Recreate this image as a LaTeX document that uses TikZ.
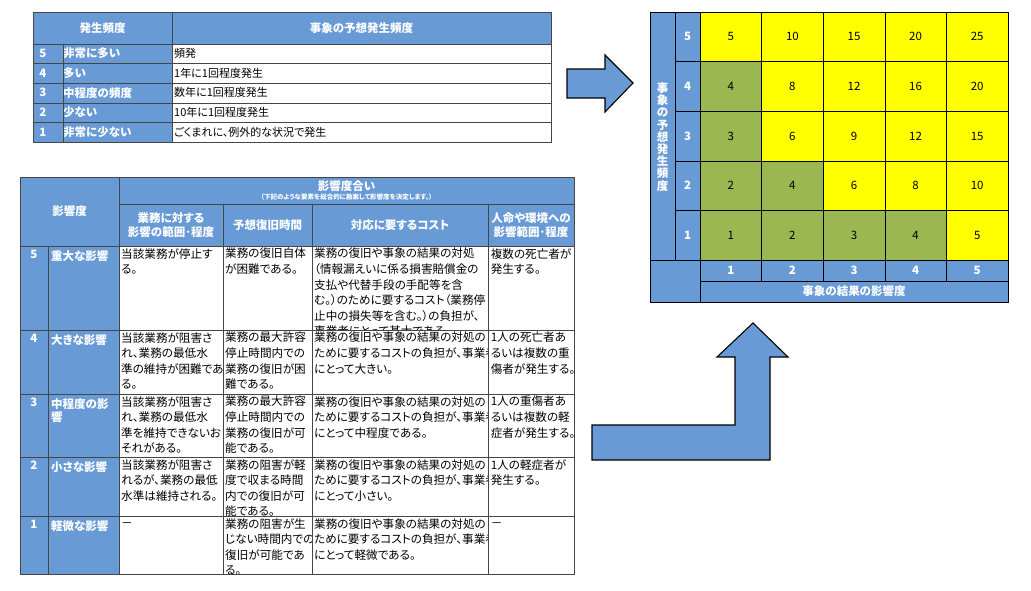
\documentclass[tikz,border=0pt]{standalone}
\usepackage{fontspec}
\setmainfont{Noto Sans CJK JP}[RawFeature=+palt]
\definecolor{hb}{RGB}{104,155,214}
\definecolor{gr}{RGB}{155,183,82}
\definecolor{yl}{RGB}{255,255,0}
\definecolor{ln}{RGB}{70,70,70}
\tikzset{
  body/.style={inner sep=1pt,align=left,font=\fontsize{11.6}{15.6}\selectfont,text=black},
  hd/.style={inner sep=0pt,align=center,font=\bfseries\fontsize{11.5}{13.5}\selectfont,text=white},
  tb/.style={inner sep=1pt,align=left,font=\fontsize{11}{13}\selectfont,text=black},
  grid/.style={draw=ln,line width=0.6pt},
  mnum/.style={font=\fontsize{11.5}{13}\selectfont,text=black},
  bigarrow/.style={fill=hb,draw=black,line width=1.1pt,line join=miter}
}
\newcommand\bcell[6]{\begin{scope}\clip (#1,#2) rectangle (#3,#4);\node[body,anchor=north west] (#5) at (#1+1,#2+1) {#6};\end{scope}}
\begin{document}
\begin{tikzpicture}[x=1pt,y=-1pt]
\useasboundingbox (0,0) rectangle (1031,590);
\fill[white] (0,0) rectangle (1031,590);
% ---------- top table ----------
\fill[hb] (33,12) rectangle (551,44);
\fill[hb] (33,44) rectangle (172,142);
\node[hd] (th1) at (102.5,28) {発生頻度};
\node[hd] (th2) at (361.5,28) {事象の予想発生頻度};
\foreach \n/\lab/\txt [count=\i from 0] in {5/非常に多い/頻発,4/多い/1年に1回程度発生,3/中程度の頻度/数年に1回程度発生,2/少ない/10年に1回程度発生,1/非常に少ない/ごくまれに、例外的な状況で発生}{
  \pgfmathsetmacro\yc{53.5+19.6*\i}
  \node[hd] (tn\n) at (43,\yc) {\n};
  \node[hd,anchor=west] (tl\n) at (63,\yc) {\lab};
  \node[tb,anchor=west] (tt\n) at (173,\yc) {\txt};
}
\draw[grid] (33,12) rectangle (551,142);
\draw[grid] (33,44) -- (551,44);
\foreach \y in {63.6,83.2,102.8,122.4}{\draw[grid] (33,\y) -- (551,\y);}
\draw[grid] (172,12) -- (172,142);
\draw[grid] (63,44) -- (63,142);
% ---------- bottom table ----------
\fill[hb] (20,177) rectangle (574,246);
\fill[hb] (20,246) rectangle (119,574);
\node[hd] (bh0) at (69.5,211) {影響度};
\node[hd] (bh1) at (346.5,186) {影響度合い};
\node[inner sep=0pt,text=white,font=\bfseries\fontsize{6.5}{7}\selectfont] (bh1s) at (346.5,197) {（下記のような要素を総合的に勘案して影響度を決定します。）};
\node[hd] (bh2) at (171,225) {業務に対する\\影響の範囲･程度};
\node[hd] (bh3) at (267.5,225) {予想復旧時間};
\node[hd] (bh4) at (400,225) {対応に要するコスト};
\node[hd] (bh5) at (531,225) {人命や環境への\\影響範囲･程度};
\foreach \n/\lab/\y in {5/重大な影響/246,4/大きな影響/330,3/{中程度の影\\響}/394,2/小さな影響/457,1/軽微な影響/516}{
  \node[hd,anchor=north] (bn\n) at (34,\y+4) {\n};
  \node[hd,anchor=north west,align=left] (bl\n) at (51,\y+4) {\lab};
}
% row 5
\bcell{119}{246}{223}{330}{c51}{当該業務が停止す\\る。}
\bcell{223}{246}{312}{330}{c52}{業務の復旧自体\\が困難である。}
\bcell{312}{246}{488.6}{330}{c53}{業務の復旧や事象の結果の対処\\（情報漏えいに係る損害賠償金の\\支払や代替手段の手配等を含\\む。）のために要するコスト（業務停\\止中の損失等を含む。）の負担が、\\事業者にとって甚大である。}
\bcell{488.6}{246}{574}{330}{c54}{複数の死亡者が\\発生する。}
% row 4
\bcell{119}{330}{223}{394}{c41}{当該業務が阻害さ\\れ、業務の最低水\\準の維持が困難であ\\る。}
\bcell{223}{330}{312}{394}{c42}{業務の最大許容\\停止時間内での\\業務の復旧が困\\難である。}
\bcell{312}{330}{488.6}{394}{c43}{業務の復旧や事象の結果の対処の\\ために要するコストの負担が、事業者\\にとって大きい。}
\bcell{488.6}{330}{574}{394}{c44}{1人の死亡者あ\\るいは複数の重\\傷者が発生する。}
% row 3
\bcell{119}{394}{223}{457}{c31}{当該業務が阻害さ\\れ、業務の最低水\\準を維持できないお\\それがある。}
\bcell{223}{394}{312}{457}{c32}{業務の最大許容\\停止時間内での\\業務の復旧が可\\能である。}
\bcell{312}{394}{488.6}{457}{c33}{業務の復旧や事象の結果の対処の\\ために要するコストの負担が、事業者\\にとって中程度である。}
\bcell{488.6}{394}{574}{457}{c34}{1人の重傷者あ\\るいは複数の軽\\症者が発生する。}
% row 2
\bcell{119}{457}{223}{516}{c21}{当該業務が阻害さ\\れるが、業務の最低\\水準は維持される。}
\bcell{223}{457}{312}{516}{c22}{業務の阻害が軽\\度で収まる時間\\内での復旧が可\\能である。}
\bcell{312}{457}{488.6}{516}{c23}{業務の復旧や事象の結果の対処の\\ために要するコストの負担が、事業者\\にとって小さい。}
\bcell{488.6}{457}{574}{516}{c24}{1人の軽症者が\\発生する。}
% row 1
\bcell{119}{516}{223}{574}{c11}{\vphantom{業}－}
\bcell{223}{516}{312}{574}{c12}{業務の阻害が生\\じない時間内での\\復旧が可能であ\\る。}
\bcell{312}{516}{488.6}{574}{c13}{業務の復旧や事象の結果の対処の\\ために要するコストの負担が、事業者\\にとって軽微である。}
\bcell{488.6}{516}{574}{574}{c14}{\vphantom{業}－}
\draw[grid] (20,177) rectangle (574,574);
\draw[grid] (119,177) -- (119,574);
\draw[grid] (119,204) -- (574,204);
\draw[grid] (20,246) -- (574,246);
\foreach \x in {223,312,488.6}{\draw[grid] (\x,204) -- (\x,574);}
\draw[grid] (48.6,246) -- (48.6,574);
\foreach \y in {330,394,457,516}{\draw[grid] (20,\y) -- (574,\y);}
% ---------- matrix ----------
\fill[hb] (650,12) rectangle (700,302);
\fill[hb] (700,260) rectangle (1008,302);
\foreach \r [count=\ri from 0] in {5,4,3,2,1}{
  \foreach \c [count=\ci from 0] in {1,2,3,4,5}{
    \pgfmathtruncatemacro\v{\r*\c}
    \pgfmathsetmacro\xa{700+61.6*\ci}
    \pgfmathsetmacro\ya{12+49.6*\ri}
    \ifnum\v<5 \fill[gr] (\xa,\ya) rectangle (\xa+61.6,\ya+49.6);
    \else \fill[yl] (\xa,\ya) rectangle (\xa+61.6,\ya+49.6);\fi
    \node[mnum] (m\r\c) at (\xa+30.8,\ya+24.8) {\v};
  }
  \node[hd] (mr\r) at (687.5,36.8+49.6*\ri) {\r};
}
\foreach \c [count=\ci from 0] in {1,2,3,4,5}{
  \node[hd] (mc\c) at (730.8+61.6*\ci,270.5) {\c};
}
\node[hd] (mxl) at (854,291.5) {事象の結果の影響度};
\node[hd,font=\bfseries\fontsize{11.5}{12.2}\selectfont] (myl) at (662.5,137) {事\\象\\の\\予\\想\\発\\生\\頻\\度};
\draw[black,line width=0.6pt] (650,12) rectangle (1008,302);
\draw[black,line width=0.6pt] (675,12) -- (675,260);
\draw[black,line width=0.6pt] (700,12) -- (700,302);
\foreach \i in {1,...,4}{\draw[black,line width=0.6pt] (675,12+49.6*\i) -- (1008,12+49.6*\i);}
\draw[black,line width=0.6pt] (650,260) -- (1008,260);
\draw[black,line width=0.6pt] (700,281) -- (1008,281);
\foreach \i in {1,...,4}{\draw[black,line width=0.6pt] (700+61.6*\i,12) -- (700+61.6*\i,281);}
% ---------- arrows ----------
\draw[bigarrow] (567,69) -- (605,69) -- (605,55) -- (633,83) -- (605,112) -- (605,98) -- (567,98) -- cycle;
\draw[bigarrow] (592,425) -- (735,425) -- (735,357) -- (717,357) -- (753,323) -- (788,357) -- (770,357) -- (770,460) -- (592,460) -- cycle;
\end{tikzpicture}
\end{document}
